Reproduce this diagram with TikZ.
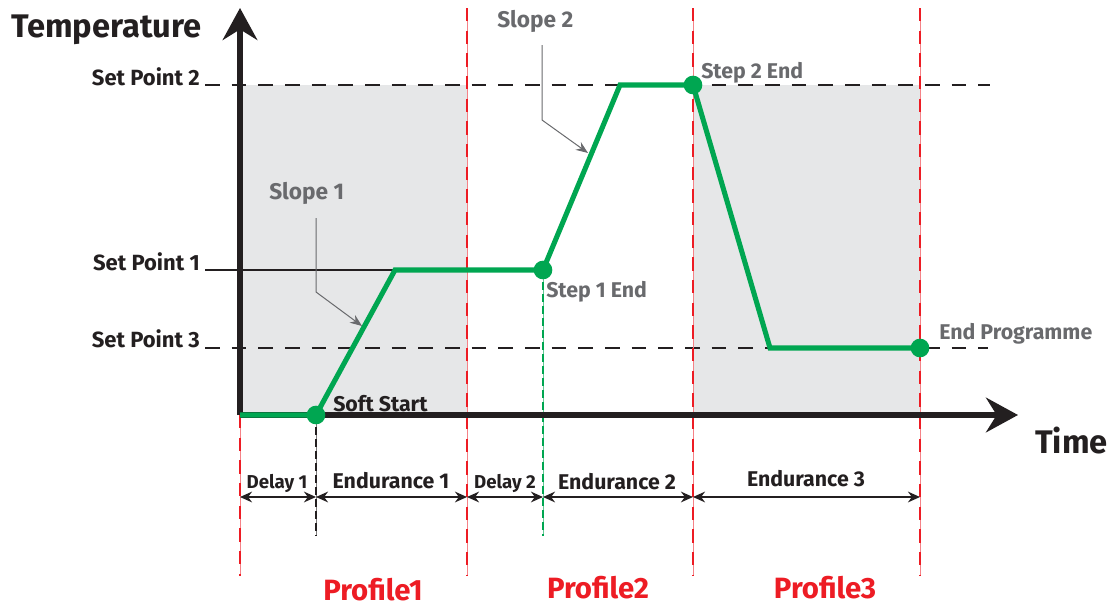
\documentclass[tikz,border=0pt]{standalone}
\usepackage{fontspec}
\setmainfont{Fira Sans}
\usetikzlibrary{arrows.meta}
\definecolor{progreen}{RGB}{0,166,81}
\definecolor{prored}{RGB}{237,28,36}
\definecolor{shadegray}{RGB}{230,231,232}
\definecolor{notegray}{RGB}{105,106,109}
\definecolor{axisblack}{RGB}{35,31,32}

\tikzset{
  axisline/.style={line width=3.8pt, color=axisblack, -{Stealth[length=24pt, width=26pt, inset=8pt]}},
  setline/.style={line width=1.9pt, color=axisblack, dash pattern=on 11pt off 9pt},
  redmark/.style={line width=2.1pt, color=prored, dash pattern=on 10pt off 7pt},
  redthin/.style={line width=0.7pt, color=prored!55},
  profile/.style={line width=3.8pt, color=progreen, line join=miter},
  dimline/.style={line width=1.9pt, color=axisblack, {Stealth[length=9pt, width=8pt]}-{Stealth[length=9pt, width=8pt]}},
  leader/.style={line width=0.75pt, color=notegray, -{Stealth[length=9pt, width=7pt]}},
  enddot/.style={circle, fill=progreen, inner sep=0pt, minimum size=14pt},
  setlabel/.style={inner sep=0.75pt, font=\bfseries\fontsize{16.5}{19}\selectfont, color=axisblack},
  notelabel/.style={inner sep=0.75pt, font=\bfseries\fontsize{16}{19}\selectfont, color=notegray},
  spanlabel/.style={inner sep=0.75pt, font=\bfseries\fontsize{16}{19}\selectfont, color=axisblack},
  delaylabel/.style={inner sep=0.75pt, font=\bfseries\fontsize{14}{17}\selectfont, color=axisblack},
  proflabel/.style={inner sep=0.75pt, font=\bfseries\fontsize{22}{26}\selectfont, color=prored},
}

\begin{document}
\begin{tikzpicture}[x=0.75pt,y=0.75pt,yscale=-1,xscale=1]
\useasboundingbox (0,0) rectangle (1114,607);

%Shaded areas
\fill [shadegray] (240,85) rectangle (467,415);
\fill [shadegray] (693,85) rectangle (920,415);

%Profile corners
\coordinate (orig) at (240,415);
\coordinate (softstart) at (316,415);
\coordinate (top1) at (395,270);
\coordinate (step1) at (543,270);
\coordinate (top2) at (620,85);
\coordinate (step2) at (693,85);
\coordinate (low3) at (770,348);
\coordinate (progend) at (920,348);

%Set point lines
\coordinate (sp2a) at (205,85);
\coordinate (sp2b) at (990,85);
\coordinate (sp1a) at (205,270);
\coordinate (sp3a) at (205,348);
\coordinate (sp3b) at (988,348);
\draw [setline] (sp2a) -- (sp2b);
\draw [line width=1.9pt, color=axisblack] (sp1a) -- (top1);
\draw [setline] (sp3a) -- (sp3b);

%Profile borders
\foreach \px/\ptop in {240/415, 467/8, 693/8, 920/8} {
  \draw [redthin] (\px,\ptop) -- (\px,576);
  \draw [redmark] (\px,\ptop) -- (\px,576);
}
%Step markers
\draw [line width=0.6pt, color=axisblack!60] (softstart) -- (316,536);
\draw [line width=1.7pt, color=axisblack, dash pattern=on 6pt off 3pt] (softstart) -- (316,536);
\draw [line width=0.6pt, color=progreen!60] (step1) -- (543,536);
\draw [line width=1.7pt, color=progreen, dash pattern=on 6pt off 3pt] (step1) -- (543,536);

%Axes
\draw [axisline] (orig) -- (240,8);
\draw [axisline] (orig) -- (1018,415);

%Temperature profile
\draw [profile] (orig) -- (softstart) -- (top1) -- (step1) -- (top2) -- (step2) -- (low3) -- (progend);
\node [enddot] (dot0) at (softstart) {};
\node [enddot] (dot1) at (step1) {};
\node [enddot] (dot2) at (step2) {};
\node [enddot] (dot3) at (progend) {};

% Text Node
\node (templabel) [anchor=base west, inner sep=0.75pt, font=\bfseries\fontsize{24.5}{28}\selectfont, color=axisblack] at (10,37) {Temperature};
% Text Node
\node (timelabel) [anchor=base west, inner sep=0.75pt, font=\bfseries\fontsize{24.5}{28}\selectfont, color=axisblack] at (1034,453) {Time};
% Text Node
\node (sp2label) [setlabel, anchor=base east] at (201,85) {Set Point 2};
% Text Node
\node (sp1label) [setlabel, anchor=base east] at (201,270) {Set Point 1};
% Text Node
\node (sp3label) [setlabel, anchor=base east] at (201,347) {Set Point 3};

% Text Node
\node (slope1) [notelabel, font=\bfseries\fontsize{17}{20}\selectfont, anchor=base west] at (268,199) {Slope 1};
% Text Node
\node (slope2) [notelabel, font=\bfseries\fontsize{17}{20}\selectfont, anchor=base west] at (496,27) {Slope 2};
% Text Node
\node (step1label) [notelabel, anchor=base west] at (545,297) {Step 1 End};
% Text Node
\node (step2label) [notelabel, anchor=base west] at (700,78) {Step 2 End};
% Text Node
\node (endlabel) [notelabel, anchor=base west] at (938,339) {End Programme};
% Text Node
\node (softlabel) [notelabel, color=axisblack, anchor=base west] at (332,411) {Soft Start};

%Slope leaders
\coordinate (bend1) at (316,292);
\coordinate (tip1) at (362,326);
\draw [leader] (316,218) -- (bend1) -- (tip1);
\coordinate (bend2) at (542,120);
\coordinate (tip2) at (588,153);
\draw [leader] (542,45) -- (bend2) -- (tip2);

%Spans
\coordinate (d0) at (240,497);
\coordinate (d1) at (316,497);
\coordinate (d2) at (467,497);
\coordinate (d3) at (543,497);
\coordinate (d4) at (693,497);
\coordinate (d5) at (920,497);
\draw [dimline] (d0) -- (d1);
\draw [dimline] (d1) -- (d2);
\draw [dimline] (d2) -- (d3);
\draw [dimline] (d3) -- (d4);
\draw [dimline] (d4) -- (d5);
% Text Node
\node (delay1) [delaylabel, anchor=base] at (277,488) {Delay 1};
% Text Node
\node (endur1) [spanlabel, anchor=base] at (391,488) {Endurance 1};
% Text Node
\node (delay2) [delaylabel, anchor=base] at (505,488) {Delay 2};
% Text Node
\node (endur2) [spanlabel, anchor=base] at (617,489) {Endurance 2};
% Text Node
\node (endur3) [spanlabel, anchor=base] at (806,486) {Endurance 3};

% Text Node
\node (prof1) [proflabel, anchor=base] at (373,600) {Profile1};
% Text Node
\node (prof2) [proflabel, anchor=base] at (598,598) {Profile2};
% Text Node
\node (prof3) [proflabel, anchor=base] at (825,598) {Profile3};

\end{tikzpicture}
\end{document}
